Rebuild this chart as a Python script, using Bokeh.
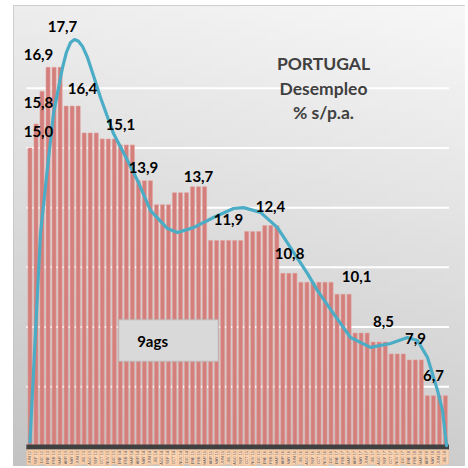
import numpy as np
from bokeh.plotting import figure
from bokeh.models import Range1d, Label, BoxAnnotation, ColumnDataSource
from bokeh.core.properties import value
from bokeh.embed import file_html
from bokeh.resources import INLINE

# ---------------- data ----------------
tick_labels = [
    "JUN 12", "SEP 12", "DIC 12",
    "ENE 13", "FEB 13", "MAR 13", "ABR 13", "MAY 13", "JUN 13", "JUL 13", "AGO 13", "SEP 13", "OCT 13", "NOV 13", "DIC 13",
    "ENE 14", "FEB 14", "MAR 14", "ABR 14", "MAY 14", "JUN 14", "JUL 14", "AGO 14", "SEP 14", "OCT 14", "NOV 14", "DIC 14",
    "ENE 15", "FEB 15", "MAR 15", "ABR 15", "MAY 15", "JUN 15", "JUL 15", "AGO 15", "SEP 15", "OCT 15", "NOV 15", "DIC 15",
    "ENE 16", "FEB 16", "MAR 16", "ABR 16", "MAY 16", "JUN 16", "JUL 16", "AGO 16", "SEP 16", "OCT 16", "NOV 16", "DIC 16",
    "ENE 17", "FEB 17", "MAR 17", "ABR 17", "MAY 17", "JUN 17", "JUL 17", "AGO 17", "SEP 17", "OCT 17", "NOV 17", "DIC 17",
    "ENE 18", "FEB 18", "MAR 18", "ABR 18", "MAY 18", "JUN 18", "JUL 18",
]
unemployment = [
    15.0, 15.8, 16.9,
    17.7, 17.7, 17.7, 16.4, 16.4, 16.4, 15.5, 15.5, 15.5, 15.3, 15.3, 15.3,
    15.1, 15.1, 15.1, 13.9, 13.9, 13.9, 13.1, 13.1, 13.1, 13.5, 13.5, 13.5,
    13.7, 13.7, 13.7, 11.9, 11.9, 11.9, 11.9, 11.9, 11.9, 12.2, 12.2, 12.2,
    12.4, 12.4, 12.4, 10.8, 10.8, 10.8, 10.5, 10.5, 10.5, 10.5, 10.5, 10.5,
    10.1, 10.1, 10.1, 8.8, 8.8, 8.8, 8.5, 8.5, 8.5, 8.1, 8.1, 8.1,
    7.9, 7.9, 7.9, 6.7, 6.7, 6.7, 6.7,
]
# trend line (polynomial trend): bar position, value
trend_x = [0.0, 1.74, 2.91, 3.90, 5.40, 6.06, 6.73, 7.39, 8.06, 8.72, 9.55, 10.55,
           11.71, 13.87, 16.20, 17.86, 20.02, 22.84, 24.50, 27.16, 30.48, 33.80, 35.47,
           38.29, 41.11, 43.27, 46.10, 47.76, 50.42, 53.24, 56.56, 59.88, 62.71, 64.37,
           66.03, 67.69, 68.52, 69.19]
trend_y = [5.15, 12.13, 14.34, 16.15, 17.69, 18.21, 18.53, 18.63, 18.57, 18.40, 18.03, 17.42,
           16.69, 15.48, 14.58, 13.91, 12.90, 12.30, 12.17, 12.33, 12.67, 12.97, 13.00,
           12.84, 12.33, 11.66, 10.79, 10.22, 9.45, 8.65, 8.32, 8.45, 8.65, 8.55,
           7.98, 6.88, 6.21, 5.03]
value_labels = ["17,7", "16,9", "15,8", "15,0", "16,4", "15,1", "13,9", "13,7",
                "11,9", "12,4", "10,8", "10,1", "8,5", "7,9", "6,7"]
grid_values = [7, 9, 11, 13, 15, 17]
y_min = 5

# ---------------- layout ----------------
label_x = [5.40, 1.41, 1.41, 1.41, 8.72, 15.03, 18.85, 27.99, 32.97, 39.95, 43.11, 54.24, 58.72, 64.04, 67.03]
label_y = [19.07, 18.13, 16.52, 15.55, 16.99, 15.78, 14.34, 14.04, 12.60, 13.04, 11.46, 10.69, 9.19, 8.62, 7.38]

n = len(unemployment)
idx = list(range(n))

X0, X1 = -2.74, 72.34
Y0, Y1 = 4.33, 19.77

p = figure(width=465, height=466, output_backend="svg", toolbar_location=None,
           x_range=Range1d(X0, X1), y_range=Range1d(Y0, Y1),
           x_axis_location=None, y_axis_location=None,
           min_border_left=13, min_border_right=0, min_border_top=5, min_border_bottom=0)
p.grid.visible = False
p.outline_line_color = "#c4c4c4"
p.border_fill_color = "white"
p.background_fill_color = "#e4e4e4"

# gradient panel background
N = 64
ty = np.linspace(0, 1, N)[:, None]
tx = np.linspace(0, 1, N)[None, :]
v = (247 - 42 * (1 - ty) - 10 * (1 - tx)).astype(np.uint8)
img = np.empty((N, N), dtype=np.uint32)
view = img.view(dtype=np.uint8).reshape((N, N, 4))
view[:, :, 0] = v
view[:, :, 1] = v
view[:, :, 2] = v
view[:, :, 3] = 255
p.image_rgba(image=[img], x=X0, y=Y0, dw=X1 - X0, dh=Y1 - Y0)

# gridlines
gx0 = -0.6
gx1 = n - 0.4
p.segment(x0=[gx0] * len(grid_values), x1=[gx1] * len(grid_values),
          y0=grid_values, y1=grid_values, line_color="white", line_width=2)

# bars
src = ColumnDataSource(dict(x=idx, top=unemployment, lab=tick_labels))
p.vbar(x="x", top="top", bottom=y_min, width=0.68, source=src,
       fill_color="#d47f7b", line_color="#e2a19e", line_width=0.6)

# axis line
p.segment(x0=[gx0], x1=[gx1], y0=[y_min - 0.02], y1=[y_min - 0.02],
          line_color="#404040", line_width=5)

# category labels (vertical, tiny, peach boxes)
p.text(x="x", y=y_min - 0.12, text="lab", source=src, angle=np.pi / 2,
       text_align="right", text_baseline="middle",
       text_font=value("Liberation Sans"), text_font_size="3.8px", text_color="#595959",
       background_fill_color="#fcd5b4", border_line_color="#f3c49d", padding=1)

# trend line
p.line(trend_x, trend_y, line_color="#4bacc6", line_width=3.2, line_join="round", line_cap="round")

# value labels
p.text(x=label_x, y=label_y, text=value_labels, text_align="center", text_baseline="middle",
       text_font=value("Lato"), text_font_style="bold", text_font_size="15px", text_color="black")

# title block
title_lines = ["PORTUGAL", "Desempleo", "% s/p.a."]
title_y = [17.83, 16.99, 16.19]
for t, ty_ in zip(title_lines, title_y):
    p.add_layout(Label(x=48.75, y=ty_, text=t, text_align="center", text_baseline="middle",
                       text_font="Lato", text_font_style="bold", text_font_size="17.5px",
                       text_color="#404040"))

# "9ags" box
p.add_layout(BoxAnnotation(left=14.7, right=31.3, bottom=7.85, top=9.25,
                           fill_color="#d9d9d9", fill_alpha=1.0,
                           line_color="#a6a6a6", line_width=2))
p.add_layout(Label(x=17.8, y=8.55, text="9ags", text_align="left", text_baseline="middle",
                   text_font="Lato", text_font_style="bold", text_font_size="15px",
                   text_color="black"))

open("out.html", "w").write(file_html(p, INLINE))
